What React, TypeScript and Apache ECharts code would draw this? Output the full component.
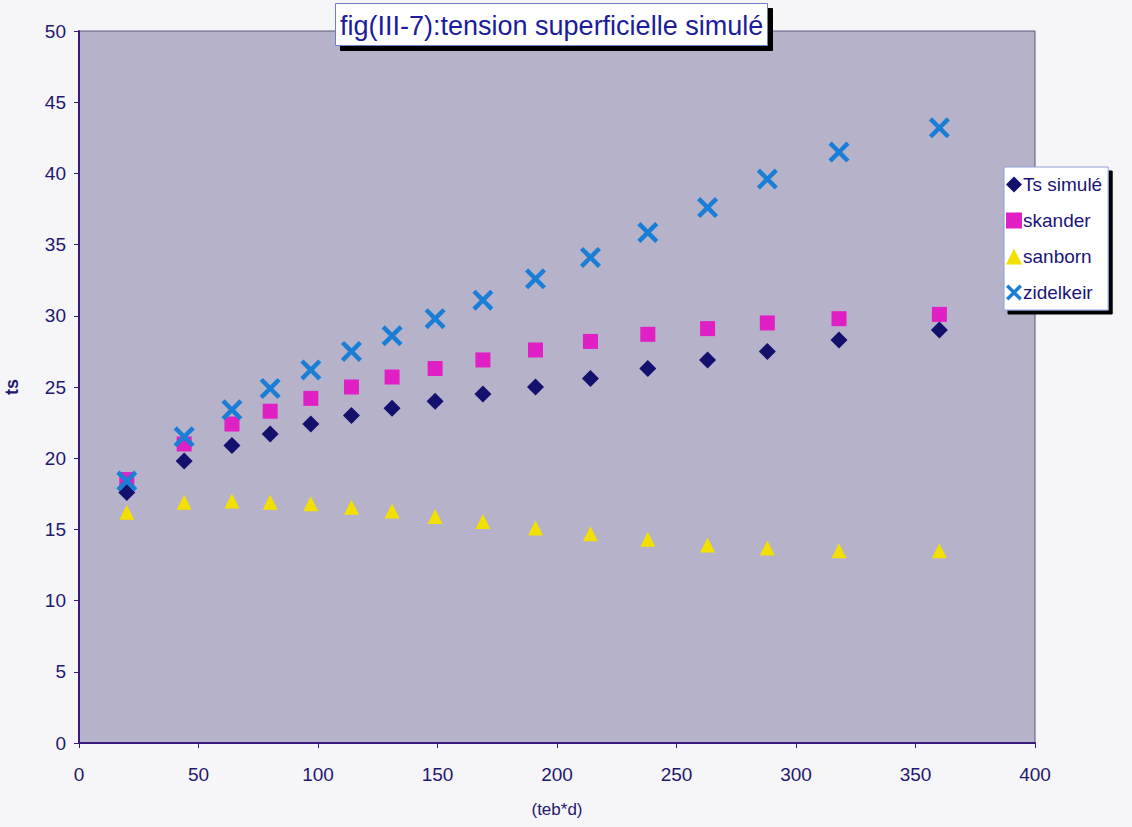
import React, { useEffect, useRef } from "react";
import * as echarts from "echarts";

const xValues = [20, 44, 64, 80, 97, 114, 131, 149, 169, 191, 214, 238, 263, 288, 318, 360];
const tsSimule = [17.6, 19.8, 20.9, 21.7, 22.4, 23.0, 23.5, 24.0, 24.5, 25.0, 25.6, 26.3, 26.9, 27.5, 28.3, 29.0];
const skander = [18.5, 21.0, 22.4, 23.3, 24.2, 25.0, 25.7, 26.3, 26.9, 27.6, 28.2, 28.7, 29.1, 29.5, 29.8, 30.1];
const sanborn = [16.2, 16.9, 17.0, 16.9, 16.8, 16.55, 16.3, 15.9, 15.55, 15.1, 14.7, 14.3, 13.9, 13.7, 13.5, 13.5];
const zidelkeir = [18.4, 21.5, 23.4, 24.9, 26.2, 27.5, 28.6, 29.8, 31.1, 32.6, 34.1, 35.85, 37.6, 39.6, 41.5, 43.2];

const seriesNames = ["Ts simulé", "skander", "sanborn", "zidelkeir"];
const titleText = "fig(III-7):tension superficielle simulé";
const xName = "(teb*d)";
const yName = "ts";

const FONT = "'Liberation Sans', Arial, sans-serif";
const TEXT = "#24186e";
const CROSS = "path://M0,3 L3,0 L10,7 L17,0 L20,3 L13,10 L20,17 L17,20 L10,13 L3,20 L0,17 L7,10 Z";

const pairs = (ys: number[]) => xValues.map((x, i) => [x, ys[i]]);

export default function App() {
  const ref = useRef<HTMLDivElement>(null);
  useEffect(() => {
    if (!ref.current) return;
    const chart = echarts.init(ref.current, undefined, { renderer: "svg" });
    chart.setOption({
      animation: false,
      backgroundColor: "#f6f5f8",
      title: {
        text: titleText,
        left: 335,
        top: 3,
        padding: [9, 5, 7, 5],
        backgroundColor: "#ffffff",
        borderColor: "#6f7fc0",
        borderWidth: 1,
        shadowColor: "#000000",
        shadowOffsetX: 5,
        shadowOffsetY: 5,
        shadowBlur: 0,
        textStyle: { fontFamily: FONT, fontSize: 27, fontWeight: "normal", color: "#1c1c9c" },
      },
      legend: {
        orient: "vertical",
        left: 1004,
        top: 167,
        data: seriesNames,
        itemWidth: 16,
        itemHeight: 16,
        itemGap: 17,
        padding: [8, 6, 8, 2],
        backgroundColor: "#ffffff",
        borderColor: "#8ea0d6",
        borderWidth: 1,
        shadowColor: "#000000",
        shadowOffsetX: 4,
        shadowOffsetY: 4,
        shadowBlur: 0,
        itemStyle: { opacity: 1 },
        textStyle: { fontFamily: FONT, fontSize: 19, color: "#1a1478", padding: [0, 0, 0, -4] },
      },
      grid: {
        left: 79,
        right: 97,
        top: 31,
        bottom: 84,
        outerBoundsMode: "none",
        containLabel: false,
        show: true,
        backgroundColor: "#b5b2c9",
        borderColor: "#5a5680",
        borderWidth: 1,
      },
      xAxis: {
        type: "value",
        min: 0,
        max: 400,
        interval: 50,
        name: xName,
        nameLocation: "middle",
        nameGap: 58,
        nameTextStyle: { fontFamily: FONT, fontSize: 17, color: TEXT },
        axisLine: { show: true, lineStyle: { color: "#3a1a78", width: 2 } },
        axisTick: { show: true, inside: false, length: 5, lineStyle: { color: "#3a1a78" } },
        axisLabel: { fontFamily: FONT, fontSize: 19, color: TEXT, margin: 22 },
        splitLine: { show: false },
      },
      yAxis: {
        type: "value",
        min: 0,
        max: 50,
        interval: 5,
        name: yName,
        nameLocation: "middle",
        nameRotate: 90,
        nameGap: 58,
        nameTextStyle: { fontFamily: FONT, fontSize: 18, fontWeight: "bold", color: TEXT },
        axisLine: { show: true, lineStyle: { color: "#3a1a78", width: 2 } },
        axisTick: { show: true, inside: false, length: 5, lineStyle: { color: "#3a1a78" } },
        axisLabel: { fontFamily: FONT, fontSize: 19, color: TEXT, margin: 13 },
        splitLine: { show: false },
      },
      series: [
        {
          name: seriesNames[0],
          type: "scatter",
          symbol: "diamond",
          symbolSize: 17,
          itemStyle: { color: "#14106e", opacity: 1 },
          data: pairs(tsSimule),
          z: 3,
        },
        {
          name: seriesNames[1],
          type: "scatter",
          symbol: "rect",
          symbolSize: 15,
          itemStyle: { color: "#e020c4", opacity: 1 },
          data: pairs(skander),
          z: 2,
        },
        {
          name: seriesNames[2],
          type: "scatter",
          symbol: "triangle",
          symbolSize: 15,
          itemStyle: { color: "#f4e000", opacity: 1 },
          data: pairs(sanborn),
          z: 2,
        },
        {
          name: seriesNames[3],
          type: "scatter",
          symbol: CROSS,
          symbolSize: 21,
          itemStyle: { color: "#1a7ed6", opacity: 1 },
          data: pairs(zidelkeir),
          z: 4,
        },
      ],
    });
    return () => chart.dispose();
  }, []);
  return <div ref={ref} style={{ width: 1132, height: 827, position: "absolute", left: 0, top: 0 }} />;
}
